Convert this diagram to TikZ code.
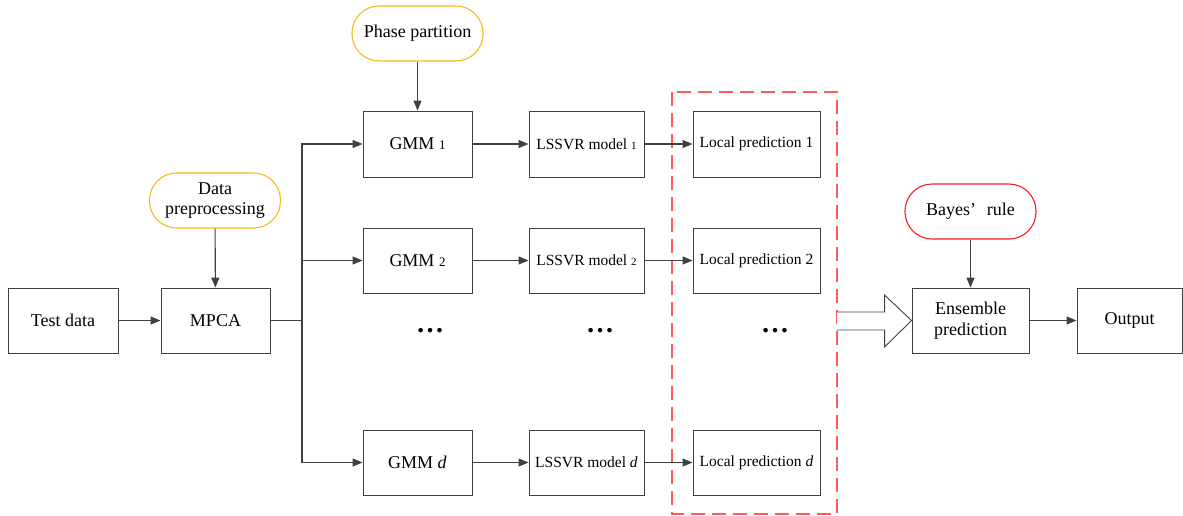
\documentclass[tikz,border=0pt]{standalone}
\usepackage{fontspec}
\setmainfont{Liberation Serif}
\usetikzlibrary{arrows.meta,calc}
\definecolor{lc}{HTML}{404040}
\definecolor{yel}{HTML}{F7BA1C}
\definecolor{rd}{HTML}{F02020}
\definecolor{dash}{HTML}{FF5A5A}
\begin{document}
\begin{tikzpicture}[x=1pt,y=-1pt,
  box/.style={draw=lc,line width=0.9pt,fill=white,inner sep=0pt,align=center,font=\fontsize{18}{21}\selectfont},
  sbox/.style={box,font=\fontsize{15.5}{18}\selectfont},
  pill/.style={draw=yel,line width=1.1pt,rounded corners=27pt,inner sep=0pt,align=center,minimum width=131pt,minimum height=55pt,font=\fontsize{18}{20}\selectfont},
  conn/.style={draw=lc,line width=1.1pt,-{Triangle[length=10pt,width=8pt]}},
  plain/.style={draw=lc,line width=1.1pt},
  dots/.style={font=\bfseries\fontsize{28}{28}\selectfont,inner sep=0pt}]
\useasboundingbox (0,0) rectangle (1183,515);
% left part
\node[box,minimum width=110pt,minimum height=65pt] (test) at (63,320.5) {Test data};
\node[box,minimum width=109pt,minimum height=65pt] (mpca) at (215.5,320.5) {MPCA};
\node[pill] (prep) at (215,200.5) {Data\\preprocessing};
\node[pill] (phase) at (417.5,33.5) {Phase partition};
% GMM column
\node[box,minimum width=109pt,minimum height=66pt] (g1) at (417.5,144) {GMM {\fontsize{13}{13}\selectfont 1}};
\node[box,minimum width=109pt,minimum height=65pt] (g2) at (417.5,260.5) {GMM {\fontsize{13}{13}\selectfont 2}};
\node[box,minimum width=109pt,minimum height=65pt] (gd) at (417.5,462.5) {GMM \textit{d}};
% LSSVR column
\node[sbox,minimum width=115pt,minimum height=66pt] (l1) at (586.5,144) {LSSVR model {\fontsize{11}{11}\selectfont 1}};
\node[sbox,minimum width=115pt,minimum height=65pt] (l2) at (586.5,260.5) {LSSVR model {\fontsize{11}{11}\selectfont 2}};
\node[sbox,minimum width=115pt,minimum height=65pt] (ld) at (586.5,462.5) {LSSVR model \textit{d}};
% local predictions
\node[sbox,minimum width=127pt,minimum height=66pt] (p1) at (756.5,144) {Local prediction 1};
\node[sbox,minimum width=127pt,minimum height=65pt] (p2) at (756.5,260.5) {Local prediction 2};
\node[sbox,minimum width=127pt,minimum height=65pt] (pd) at (756.5,462.5) {Local prediction \textit{d}};
% dots
\node[dots] (d1) at (430,331) {…};
\node[dots] (d2) at (600,331) {…};
\node[dots] (d3) at (775,331) {…};
% dashed region
\draw[draw=dash,line width=1.4pt,dash pattern=on 14pt off 7pt] (672,92) rectangle (837,514);
\coordinate (dr) at (837,320.5);
% right part
\node[box,minimum width=117pt,minimum height=65pt] (ens) at (970.5,320.5) {Ensemble\\prediction};
\node[box,minimum width=105pt,minimum height=65pt] (out) at (1129.5,320.5) {Output};
\node[pill,draw=rd] (bayes) at (970.5,211.5) {Bayes’\hspace{0.6em}rule};
% connectors
\draw[conn] (test) -- (mpca);
\draw[conn] (prep) -- (mpca);
\draw[conn] (phase) -- (g1);
\coordinate (j) at (302,320.5);
\draw[plain] (mpca.east) -- (j);
\draw[conn] (j) |- (g1.west);
\draw[conn] (j) |- (g2.west);
\draw[conn] (j) |- (gd.west);
\draw[conn] (g1) -- (l1);
\draw[conn] (g2) -- (l2);
\draw[conn] (gd) -- (ld);
\draw[conn] (l1) -- (p1);
\draw[conn] (l2) -- (p2);
\draw[conn] (ld) -- (pd);
\draw[conn] (bayes) -- (ens);
\draw[conn] (ens) -- (out);
% hollow arrow
\draw[draw=lc,line width=0.9pt,fill=white,line join=miter]
  ($(dr)+(0,-8.5)$) -- ($(ens.west)+(-27,-8.5)$) -- ($(ens.west)+(-27,-25.5)$) -- (ens.west)
  -- ($(ens.west)+(-27,26.5)$) -- ($(ens.west)+(-27,9.5)$) -- ($(dr)+(0,9.5)$);
\end{tikzpicture}
\end{document}
